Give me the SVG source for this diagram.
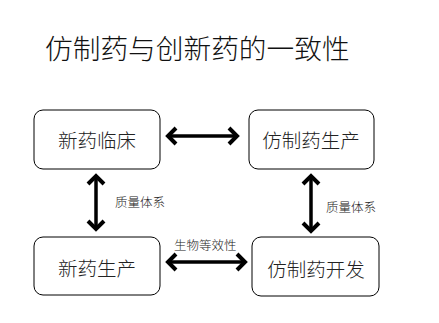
<svg xmlns="http://www.w3.org/2000/svg" width="439" height="323" viewBox="0 0 439 323">
<style>
.node rect{fill:#fff;stroke:#000;stroke-width:1}
.node text{font-family:"Noto Sans CJK SC","Noto Sans",sans-serif;font-size:19.5px;font-weight:300;text-anchor:middle;dominant-baseline:central;fill:#222}
.title{font-family:"Noto Sans CJK SC","Noto Sans",sans-serif;font-size:27.7px;font-weight:300;fill:#111}
.lbl{font-family:"Noto Sans CJK SC","Noto Sans",sans-serif;font-size:12.5px;font-weight:300;fill:#222;dominant-baseline:central}
.ln{stroke:#000;stroke-width:3.5;fill:none}
.hd{stroke:#000;stroke-width:4;fill:none;stroke-linejoin:miter;stroke-linecap:butt}
</style>
<rect width="439" height="323" fill="#fff"/>
<text class="title" x="45" y="59">仿制药与创新药的一致性</text>
<g id="n1" class="node"><rect x="34" y="110" width="126" height="59" rx="9"/><text x="97" y="139">新药临床</text></g>
<g id="n2" class="node"><rect x="249" y="110" width="125" height="59" rx="9"/><text x="311" y="139">仿制药生产</text></g>
<g id="n3" class="node"><rect x="34" y="237" width="126" height="58" rx="9"/><text x="97" y="267">新药生产</text></g>
<g id="n4" class="node"><rect x="252" y="237" width="127" height="59" rx="9"/><text x="316" y="268">仿制药开发</text></g>
<g id="connectors">
<line class="ln" x1="168" y1="136" x2="237" y2="136"/>
<polyline class="hd" points="176,128 168,136 176,144"/>
<polyline class="hd" points="229,128 237,136 229,144"/>
<line class="ln" x1="168" y1="262" x2="245" y2="262"/>
<polyline class="hd" points="176,254 168,262 176,270"/>
<polyline class="hd" points="237,254 245,262 237,270"/>
<line class="ln" x1="96" y1="176" x2="96" y2="229"/>
<polyline class="hd" points="88,184 96,176 104,184"/>
<polyline class="hd" points="88,221 96,229 104,221"/>
<line class="ln" x1="311" y1="176" x2="311" y2="231"/>
<polyline class="hd" points="303,184 311,176 319,184"/>
<polyline class="hd" points="303,223 311,231 319,223"/>
</g>
<text class="lbl" x="115" y="201">质量体系</text>
<text class="lbl" x="326" y="206">质量体系</text>
<text class="lbl" x="174" y="244">生物等效性</text>
</svg>
